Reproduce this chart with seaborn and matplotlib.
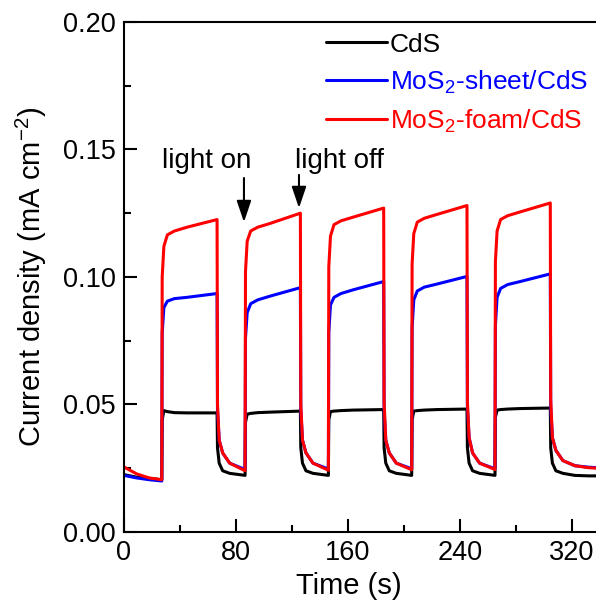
import matplotlib
matplotlib.use("Agg")
import matplotlib.pyplot as plt
from matplotlib.ticker import MultipleLocator, FormatStrFormatter
import pandas as pd
import seaborn as sns

# time points (s): dark start, then 5 light on/off cycles
time_s = [
    0, 9, 18, 27,
    27.3, 28.5, 31, 36, 45, 66.5, 66.8, 68, 70.5, 75.5, 86.5,
    86.8, 88, 90.5, 95.5, 104.5, 126, 126.3, 127.5, 130, 135, 146,
    146.3, 147.5, 150, 155, 164, 185.5, 185.8, 187, 189.5, 194.5, 205.5,
    205.8, 207, 209.5, 214.5, 223.5, 245, 245.3, 246.5, 249, 254, 265,
    265.3, 266.5, 269, 274, 283, 304.5, 304.8, 306, 308.5, 313.5, 322, 332, 345,
]

cds = [
    0.0225, 0.0215, 0.021, 0.0205,
    0.044, 0.0476, 0.0472, 0.0468, 0.0467, 0.0467, 0.033, 0.027, 0.024, 0.023, 0.0222,
    0.043, 0.0462, 0.0465, 0.0468, 0.047, 0.0474, 0.033, 0.027, 0.024, 0.023, 0.0222,
    0.044, 0.0472, 0.0474, 0.0476, 0.0478, 0.048, 0.033, 0.027, 0.024, 0.023, 0.0222,
    0.044, 0.0474, 0.0476, 0.0478, 0.048, 0.0482, 0.033, 0.027, 0.024, 0.023, 0.0222,
    0.045, 0.0478, 0.048, 0.0482, 0.0484, 0.0486, 0.033, 0.027, 0.024, 0.023, 0.0222, 0.022, 0.022,
]

mos2_sheet = [
    0.0222, 0.0212, 0.0205, 0.0200,
    0.078, 0.088, 0.0905, 0.0915, 0.092, 0.0935, 0.048, 0.036, 0.031, 0.027, 0.0245,
    0.076, 0.086, 0.0895, 0.091, 0.0925, 0.0958, 0.048, 0.036, 0.031, 0.027, 0.0247,
    0.078, 0.089, 0.092, 0.0935, 0.095, 0.0982, 0.048, 0.036, 0.031, 0.027, 0.0248,
    0.080, 0.091, 0.0945, 0.096, 0.0972, 0.1002, 0.049, 0.037, 0.031, 0.027, 0.0248,
    0.081, 0.092, 0.0955, 0.097, 0.0982, 0.1012, 0.049, 0.037, 0.032, 0.028, 0.026, 0.0254, 0.025,
]

mos2_foam = [
    0.0255, 0.0228, 0.0212, 0.0205,
    0.100, 0.112, 0.1165, 0.118, 0.1195, 0.1225, 0.050, 0.036, 0.031, 0.027, 0.0240,
    0.102, 0.114, 0.118, 0.1195, 0.121, 0.125, 0.050, 0.036, 0.031, 0.027, 0.0242,
    0.104, 0.116, 0.1205, 0.122, 0.1235, 0.127, 0.051, 0.036, 0.031, 0.027, 0.0244,
    0.105, 0.117, 0.1215, 0.123, 0.1245, 0.128, 0.051, 0.037, 0.031, 0.027, 0.0245,
    0.106, 0.118, 0.1225, 0.124, 0.1255, 0.129, 0.052, 0.037, 0.032, 0.028, 0.026, 0.0252, 0.0248,
]

labels = ["CdS", r"MoS$_2$-sheet/CdS", r"MoS$_2$-foam/CdS"]
colors = ["black", "blue", "red"]

sns.set_theme(style="ticks")
plt.rcParams["font.family"] = ["Liberation Sans", "DejaVu Sans"]
plt.rcParams["mathtext.fontset"] = "custom"
plt.rcParams["mathtext.rm"] = "Liberation Sans"
plt.rcParams["mathtext.it"] = "Liberation Sans:italic"
plt.rcParams["mathtext.default"] = "regular"
plt.rcParams["text.color"] = "black"
plt.rcParams["axes.labelcolor"] = "black"
plt.rcParams["axes.edgecolor"] = "black"
plt.rcParams["xtick.color"] = "black"
plt.rcParams["ytick.color"] = "black"

frames = []
for lab, vals in zip(labels, [cds, mos2_sheet, mos2_foam]):
    frames.append(pd.DataFrame({"Time": time_s, "J": vals, "sample": lab}))
df = pd.concat(frames, ignore_index=True)

fig = plt.figure(figsize=(5.96, 6.08), dpi=100)
ax = fig.add_axes([0.208, 0.125, 0.7987, 0.839])

sns.lineplot(data=df, x="Time", y="J", hue="sample", hue_order=labels,
             palette=colors, linewidth=2.2, ax=ax, sort=False, estimator=None)

ax.set_xlim(0, 340)
ax.set_ylim(0, 0.20)
ax.xaxis.set_major_locator(MultipleLocator(80))
ax.xaxis.set_minor_locator(MultipleLocator(40))
ax.yaxis.set_major_locator(MultipleLocator(0.05))
ax.yaxis.set_minor_locator(MultipleLocator(0.025))
ax.yaxis.set_major_formatter(FormatStrFormatter("%.2f"))

ax.tick_params(which="major", direction="in", length=9.5, width=1.5, labelsize=19.5, pad=6)
ax.tick_params(which="minor", direction="in", length=5, width=1.5)
for sp in ax.spines.values():
    sp.set_linewidth(1.5)

ax.set_xlabel("Time (s)", fontsize=21, labelpad=4)
ax.xaxis.label.set_x(0.473)
ax.set_ylabel(r"Current density (mA cm$^{-2}$)", fontsize=21, labelpad=10)

leg = ax.legend(loc="upper left", bbox_to_anchor=(0.425, 0.979), frameon=False,
                fontsize=19, handlelength=2.3, handletextpad=0.1,
                labelspacing=0.45, borderaxespad=0, borderpad=0)
for txt, c in zip(leg.get_texts(), colors):
    txt.set_color(c)
for ln in leg.get_lines():
    ln.set_linewidth(2.2)

# light on / light off annotations
ax.text(59.3, 0.1427, "light on", fontsize=20, ha="center", va="baseline")
ax.text(154, 0.1427, "light off", fontsize=20, ha="center", va="baseline")
arrow = dict(arrowstyle="-|>,head_length=0.65,head_width=0.22", color="black",
             lw=1.5, mutation_scale=20, shrinkA=0, shrinkB=0)
ax.annotate("", xy=(85.7, 0.1215), xytext=(85.7, 0.1388), arrowprops=arrow)
ax.annotate("", xy=(125, 0.127), xytext=(125, 0.140), arrowprops=arrow)

fig.savefig("out.png", dpi=100)
